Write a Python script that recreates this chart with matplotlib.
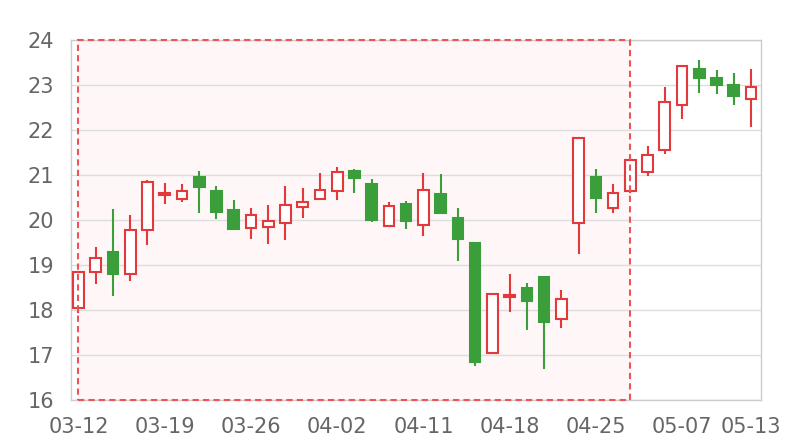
import matplotlib.pyplot as plt
from matplotlib.patches import Rectangle

dates = ["03-12", "03-13", "03-14", "03-15", "03-18", "03-19", "03-20", "03-21",
         "03-22", "03-25", "03-26", "03-27", "03-28", "03-29", "04-01", "04-02",
         "04-03", "04-04", "04-08", "04-10", "04-11", "04-12", "04-15", "04-16",
         "04-17", "04-18", "04-19", "04-22", "04-23", "04-24", "04-25", "04-26",
         "04-29", "04-30", "05-06", "05-07", "05-08", "05-09", "05-10", "05-13"]
opens = [18.05, 18.84, 19.30, 18.81, 19.78, 20.55, 20.47, 20.96, 20.65, 20.22,
         19.82, 19.84, 19.93, 20.29, 20.46, 20.64, 21.08, 20.80, 19.87, 20.36,
         19.88, 20.57, 20.05, 19.50, 17.04, 18.30, 18.50, 18.74, 17.80, 19.93,
         20.96, 20.26, 20.65, 21.07, 21.55, 22.55, 23.36, 23.15, 23.01, 22.69]
closes = [18.84, 19.16, 18.79, 19.77, 20.85, 20.61, 20.65, 20.73, 20.18, 19.81,
          20.10, 19.98, 20.33, 20.40, 20.66, 21.06, 20.93, 20.01, 20.32, 19.98,
          20.66, 20.16, 19.57, 16.84, 18.36, 18.33, 18.19, 17.73, 18.24, 21.82,
          20.49, 20.60, 21.34, 21.44, 22.63, 23.43, 23.15, 22.99, 22.76, 22.95]
lows = [17.93, 18.57, 18.32, 18.64, 19.45, 20.35, 20.39, 20.16, 20.02, 19.81,
        19.58, 19.47, 19.55, 20.05, 20.46, 20.45, 20.60, 19.96, 19.87, 19.79,
        19.64, 20.16, 19.10, 16.76, 17.04, 17.95, 17.55, 16.70, 17.59, 19.24,
        20.15, 20.15, 20.61, 20.98, 21.47, 22.24, 22.82, 22.80, 22.55, 22.07]
highs = [18.84, 19.39, 20.24, 20.10, 20.88, 20.82, 20.81, 21.08, 20.75, 20.44,
         20.27, 20.33, 20.76, 20.72, 21.04, 21.17, 21.13, 20.92, 20.39, 20.43,
         21.05, 21.03, 20.26, 19.50, 18.36, 18.79, 18.59, 18.74, 18.44, 21.82,
         21.13, 20.79, 21.39, 21.64, 22.96, 23.43, 23.55, 23.33, 23.27, 23.36]
label_idx = [0, 5, 10, 15, 20, 25, 30, 35, 39]
area_start, area_end = "03-12", "04-29"

up_color = "#e4393c"
down_color = "#3a9e3a"

fig = plt.figure(figsize=(8, 4.4), dpi=100)
ax = fig.add_axes([0.0884, 0.0909, 0.8625, 0.8182])

# marked area
x0 = dates.index(area_start)
x1 = dates.index(area_end)
ax.add_patch(Rectangle((x0, 16), x1 - x0, 8, facecolor="#fff7f7", edgecolor="none", zorder=0))
ax.add_patch(Rectangle((x0, 16), x1 - x0, 8, facecolor="none", edgecolor="#ef5358",
                       linestyle=(0, (3, 2)), linewidth=1.5, zorder=4, clip_on=False))

x = list(range(len(dates)))
for i in x:
    o, c, lo, hi = opens[i], closes[i], lows[i], highs[i]
    up = c >= o
    col = up_color if up else down_color
    ax.vlines(i, lo, hi, color=col, linewidth=1.5, zorder=2)
    bottom = min(o, c)
    h = max(abs(c - o), 0.03)
    ax.bar(i, h, bottom=bottom, width=0.62,
           facecolor="white" if up else down_color,
           edgecolor=col, linewidth=1.5, zorder=3)

ax.set_xlim(-0.45, 39.56)
ax.set_ylim(16, 24)
ax.set_yticks(range(16, 25))
ax.set_xticks(label_idx)
ax.set_xticklabels([dates[i] for i in label_idx])
ax.yaxis.grid(True, color="#dddddd", linewidth=1, zorder=1)
ax.set_axisbelow(True)
for s in ax.spines.values():
    s.set_color("#cccccc")
    s.set_linewidth(1)
ax.tick_params(length=0, colors="#666666", labelsize=15)
ax.tick_params(axis="y", pad=12)
ax.tick_params(axis="x", pad=12)

fig.savefig("out.png", dpi=100)
